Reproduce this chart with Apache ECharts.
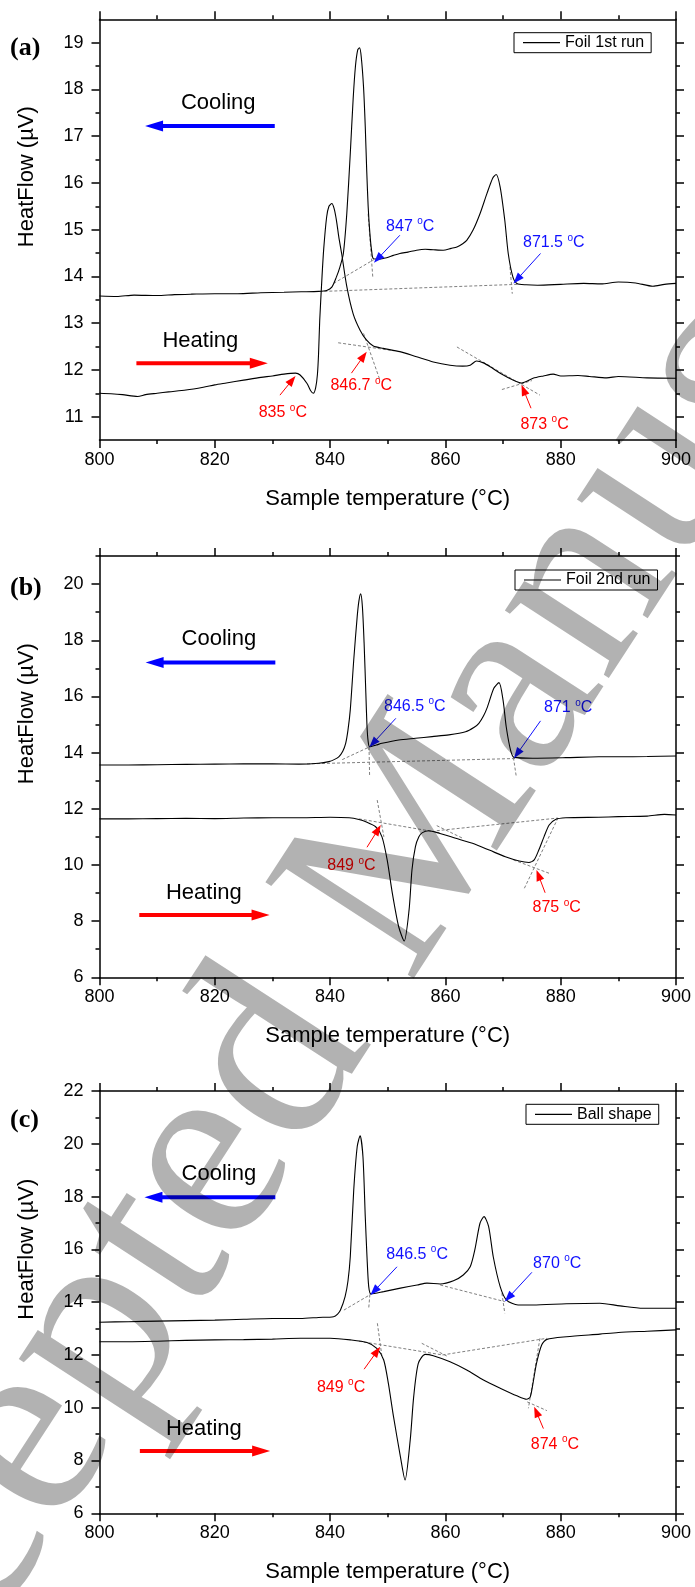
<!DOCTYPE html>
<html><head><meta charset="utf-8">
<script src="https://cdn.jsdelivr.net/npm/echarts@6/dist/echarts.min.js"></script>
<style>html,body{margin:0;padding:0;background:#fff}#c{width:695px;height:1587px}</style>
</head><body><div id="c"></div>
<script>
// ---------------- DATA ----------------
const runNames = ['Foil 1st run', 'Foil 2nd run', 'Ball shape'];
const panelTags = ['(a)', '(b)', '(c)'];
const watermarkText = 'Accepted Manuscript';

const coolA = [[800,13.58],[803,13.57],[806,13.6],[810,13.59],[813,13.61],[816,13.62],[820,13.63],[824,13.63],[828,13.65],[832,13.66],[835,13.67],[838,13.68],[839.4,13.7],[840.3,13.77],[841.1,13.99],[841.7,14.2],[842.3,14.49],[842.9,15.35],[843.5,16.63],[844.0,17.8],[844.4,18.5],[844.8,18.85],[845.1,18.89],[845.4,18.7],[845.8,18.05],[846.1,17.2],[846.35,16.27],[846.6,15.5],[846.9,14.92],[847.2,14.55],[847.5,14.38],[848.5,14.37],[849.8,14.4],[851,14.45],[852.1,14.49],[853.5,14.52],[855.0,14.56],[856.5,14.58],[857.9,14.57],[859.6,14.56],[861,14.6],[862.0,14.63],[863.0,14.7],[863.7,14.77],[864.8,14.99],[866.0,15.34],[867.2,15.77],[868.2,16.1],[868.8,16.18],[869.5,15.91],[870.3,15.2],[870.9,14.49],[871.7,13.99],[872.4,13.85],[874,13.82],[876,13.81],[880,13.83],[884,13.85],[887,13.84],[890,13.88],[893,13.86],[896,13.79],[898,13.83],[900,13.85]];
const heatA = [[800,11.5],[802,11.49],[804,11.47],[806.6,11.43],[808,11.47],[810,11.5],[812,11.53],[815,11.57],[818,11.63],[820,11.68],[822,11.72],[825,11.78],[828,11.84],[830,11.87],[832,11.91],[834,11.93],[834.8,11.89],[836.0,11.71],[836.6,11.56],[837.1,11.5],[837.5,11.62],[837.8,11.9],[838.0,12.35],[838.2,13.06],[838.6,14.0],[838.9,14.6],[839.4,15.27],[839.8,15.5],[840.3,15.56],[840.7,15.45],[841.1,15.2],[841.5,14.85],[842.0,14.49],[842.9,13.78],[844.0,13.2],[845.2,12.85],[846.3,12.64],[847.5,12.51],[849.2,12.46],[852.1,12.39],[855.0,12.28],[857.9,12.17],[860.8,12.1],[863,12.08],[864.3,12.1],[865.4,12.19],[866.6,12.15],[868,12.05],[869.5,11.93],[871.8,11.78],[873.2,11.72],[875.2,11.82],[877,11.87],[878.7,11.91],[880,11.87],[883,11.88],[885,11.86],[888,11.83],[890,11.86],[895,11.83],[900,11.82]];

const coolB = [[800,13.56],[805,13.56],[810,13.57],[815,13.58],[820,13.59],[825,13.6],[830,13.6],[834.6,13.59],[838,13.62],[839.8,13.68],[840.7,13.75],[841.5,13.85],[842.2,14.05],[842.7,14.33],[843.1,14.8],[843.5,15.52],[844.1,17.3],[844.7,18.84],[845.0,19.4],[845.3,19.65],[845.6,19.2],[845.9,17.89],[846.2,16.11],[846.4,14.95],[846.6,14.4],[846.85,14.21],[848,14.27],[849.0,14.33],[851.9,14.45],[854.8,14.51],[857.7,14.57],[860.6,14.63],[863.5,14.74],[865,14.9],[865.8,15.04],[866.6,15.3],[867.3,15.63],[868.4,16.29],[869.3,16.49],[870.0,15.87],[870.55,14.92],[871.3,14.09],[871.9,13.83],[875.1,13.8],[880.9,13.82],[886.6,13.85],[890,13.85],[895,13.86],[900,13.88]];
const heatB = [[800,11.64],[805,11.64],[810,11.65],[815,11.66],[820,11.65],[825,11.67],[830,11.68],[835,11.68],[840,11.7],[843.3,11.68],[845,11.62],[846.2,11.54],[847.9,11.36],[849.0,11.0],[849.9,10.18],[850.8,8.99],[851.9,7.8],[852.85,7.29],[853.7,8.4],[854.2,9.82],[854.8,10.65],[855.4,11.0],[856.0,11.15],[857.1,11.22],[858.9,11.13],[861.8,10.95],[864.7,10.77],[867.6,10.53],[870.4,10.29],[872.8,10.14],[874.5,10.09],[875.4,10.18],[876.2,10.53],[877.1,11.0],[878.0,11.42],[879.1,11.62],[880.9,11.68],[886.6,11.7],[890,11.72],[895,11.74],[898,11.8],[900,11.78]];

const coolC = [[800,13.24],[805,13.26],[810,13.28],[815,13.3],[820,13.32],[825,13.35],[830,13.38],[834.85,13.38],[838,13.42],[840.6,13.45],[841.3,13.55],[841.8,13.7],[842.6,14.21],[843.1,14.8],[843.5,15.72],[844.1,18.25],[844.7,19.89],[845.2,20.3],[845.7,19.51],[846.1,17.24],[846.4,15.72],[846.7,14.59],[847.1,14.31],[849.3,14.4],[852.2,14.53],[855.1,14.65],[856.8,14.72],[859.1,14.69],[861.4,14.81],[863.1,15.03],[864.3,15.34],[865.1,15.98],[866.0,16.99],[866.7,17.24],[867.5,16.86],[868.3,15.72],[869.5,14.59],[870.6,14.08],[872.6,13.89],[875.2,13.89],[881.0,13.94],[886.8,13.96],[890.3,13.86],[894.3,13.77],[900,13.77]];
const heatC = [[800,12.5],[805,12.5],[810,12.52],[815,12.55],[820,12.57],[825,12.58],[830,12.6],[834.85,12.63],[840,12.63],[843.5,12.57],[846.4,12.47],[848.1,12.25],[849.3,11.81],[850.1,10.93],[851.0,9.66],[852.2,8.14],[853.0,7.26],[853.9,8.78],[854.5,10.42],[855.3,11.68],[856.5,12.02],[857.9,11.97],[860.8,11.74],[863.7,11.43],[866.6,11.05],[869.5,10.74],[872.4,10.45],[874.1,10.32],[874.7,10.4],[875.2,10.93],[875.8,11.68],[876.7,12.38],[877.6,12.59],[881.0,12.69],[886.8,12.79],[890,12.85],[895,12.9],[900,12.95]];

// axis ranges and tick values
const yRangeA = [10.5, 19.5], yRangeB = [6, 21], yRangeC = [6, 22];
const yMajorA = [11,12,13,14,15,16,17,18,19];
const yMinorA = [11.5,12.5,13.5,14.5,15.5,16.5,17.5,18.5];
const yMajorB = [6,8,10,12,14,16,18,20];
const yMinorB = [7,9,11,13,15,17,19,21];
const yMajorC = [6,8,10,12,14,16,18,20,22];
const yMinorC = [7,9,11,13,15,17,19,21];
const xRange = [800, 900];

// tangent construction lines [x1,y1,x2,y2]
const tangA = [[839,13.68,872.5,13.83],[840.6,13.85,847.6,14.36],[846.6,15.34,847.4,13.99],[871.2,14.2,871.6,13.63],
  [841.4,12.58,851,12.41],[845.8,12.78,848.65,11.78],[862.0,12.49,876.4,11.46],[869.8,11.58,875,11.77]];
const tangB = [[836,13.6,872.3,13.79],[842.1,13.75,846.8,14.2],[846.75,14.2,846.85,13.2],[871.8,13.82,872.3,13.14],
  [848.17,12.31,849.33,11.0],[845,11.64,859,11.15],[858.5,11.22,879.5,11.67],[858.5,11.4,863,10.95],[873.7,9.17,879.5,11.66],[871.8,10.18,878.3,9.68]];
const tangC = [[842.4,13.7,847.0,14.29],[846.9,14.29,846.7,13.77],[859.1,14.65,870.3,14.02],[869.8,14.34,870.3,13.58],
  [848.2,13.2,849.0,11.93],[845,12.52,859.5,12.0],[855.9,12.44,860.5,11.93],[859.5,12.0,877.6,12.63],[876.4,12.63,874.4,9.98],[874.2,10.22,877.6,9.89]];

// onset arrows [tailX,tailY,tipX,tipY]
const coolArrA = [[852.1,14.88,847.6,14.29],[876.5,14.49,871.8,13.85]];
const heatArrA = [[831.3,11.46,834.0,11.87],[843.7,11.93,846.35,12.39],[874.85,11.18,873.2,11.68]];
const coolArrB = [[851.4,15.22,846.8,14.19],[876.5,15.13,871.9,13.8]];
const heatArrB = [[846.4,10.63,848.8,11.42],[877.3,9.01,875.8,9.82]];
const coolArrC = [[851.6,15.34,847.0,14.27],[875.0,15.13,870.3,14.02]];
const heatArrC = [[845.9,11.46,848.7,12.31],[877,9.21,875.4,10.04]];

// onset labels: positions and temperatures
const coolLabPosA = [[853.9,15.09],[878.8,14.74]], coolLabA = ['847','871.5'];
const heatLabPosA = [[831.8,11.1],[845.4,11.68],[877.2,10.86]], heatLabA = ['835','846.7','873'];
const coolLabPosB = [[854.7,15.69],[881.3,15.63]], coolLabB = ['846.5','871'];
const heatLabPosB = [[843.7,10.0],[879.3,8.51]], heatLabB = ['849','875'];
const coolLabPosC = [[855.1,15.85],[879.4,15.5]], coolLabC = ['846.5','870'];
const heatLabPosC = [[841.9,10.8],[879.0,8.65]], heatLabC = ['849','874'];

// direction arrows and their captions
const dirArrA = {cool:[830.4,17.22,807.9,17.22], heat:[806.4,12.14,829.2,12.14], coolTxt:[820.6,17.73], heatTxt:[817.5,12.64]};
const dirArrB = {cool:[830.5,17.21,808.0,17.21], heat:[806.9,8.22,829.5,8.22], coolTxt:[820.7,18.07], heatTxt:[818.1,9.05]};
const dirArrC = {cool:[830.5,17.97,807.8,17.97], heat:[807.0,8.36,829.6,8.36], coolTxt:[820.7,18.88], heatTxt:[818.1,9.22]};

// ---------------- LAYOUT / STYLE ----------------
const FONT = "'Liberation Sans', Arial, Helvetica, sans-serif";
const BLUE = '#1010ff', RED = '#ff0000';
const gridTops = [19.3, 556, 1091];
const gridHeights = [420.7, 421.3, 422.3];
const legendPos = [[514, 32.7], [515, 570], [526, 1104.3]];
const tagTops = [35, 575, 1107];

const panels = [
  {cool:coolA, heat:heatA, yr:yRangeA, maj:yMajorA, min:yMinorA, tang:tangA, ca:coolArrA, ha:heatArrA, clp:coolLabPosA, cl:coolLabA, hlp:heatLabPosA, hl:heatLabA, dir:dirArrA},
  {cool:coolB, heat:heatB, yr:yRangeB, maj:yMajorB, min:yMinorB, tang:tangB, ca:coolArrB, ha:heatArrB, clp:coolLabPosB, cl:coolLabB, hlp:heatLabPosB, hl:heatLabB, dir:dirArrB},
  {cool:coolC, heat:heatC, yr:yRangeC, maj:yMajorC, min:yMinorC, tang:tangC, ca:coolArrC, ha:heatArrC, clp:coolLabPosC, cl:coolLabC, hlp:heatLabPosC, hl:heatLabC, dir:dirArrC}
];

const axisLine = {show:true, lineStyle:{color:'#000', width:1.5}};
const tickStyle = {color:'#000', width:1.5};

const grid = [], xAxis = [], yAxis = [], series = [], legend = [], title = [];

function arrowRenderer(headLen, headHalf, lw, color) {
  return function (params, api) {
    const a = api.coord([api.value(0), api.value(1)]);
    const b = api.coord([api.value(2), api.value(3)]);
    const dx = b[0]-a[0], dy = b[1]-a[1];
    const L = Math.hypot(dx, dy) || 1;
    const ux = dx/L, uy = dy/L;
    const bx = b[0]-ux*headLen, by = b[1]-uy*headLen;
    return {type:'group', children:[
      {type:'line', shape:{x1:a[0], y1:a[1], x2:bx+ux*2, y2:by+uy*2}, style:{stroke:color, lineWidth:lw}},
      {type:'polygon', shape:{points:[[b[0],b[1]],[bx-uy*headHalf, by+ux*headHalf],[bx+uy*headHalf, by-ux*headHalf]]}, style:{fill:color}}
    ]};
  };
}
function labelRenderer(texts, color, size, sup) {
  return function (params, api) {
    const c = api.coord([api.value(0), api.value(1)]);
    const t = texts[params.dataIndex];
    return {type:'text', x:c[0], y:c[1], style:{
      text: sup ? '{n|' + t + ' }{s|o}{n|C}' : '{n|' + t + '}',
      fill: color, align:'center', verticalAlign:'middle',
      rich: {
        n:{fontSize: size, fontFamily: FONT, fill: color, lineHeight: size + 2, verticalAlign:'bottom'},
        s:{fontSize: 10, fontFamily: FONT, fill: color, verticalAlign:'top', lineHeight: 10}
      }
    }};
  };
}

panels.forEach((p, i) => {
  grid.push({left:99.5, right:19, top:gridTops[i], height:gridHeights[i], containLabel:false});
  const xb = {type:'value', gridIndex:i, position:'bottom', min:xRange[0], max:xRange[1], interval:20,
    axisLine, axisTick:{show:true, inside:false, length:8, lineStyle:tickStyle},
    minorTick:{show:true, splitNumber:2, length:4, lineStyle:tickStyle},
    axisLabel:{show:true, margin:11, fontSize:18, color:'#000', fontFamily:FONT},
    splitLine:{show:false}, minorSplitLine:{show:false},
    name:'Sample temperature (°C)', nameLocation:'middle', nameGap:48,
    nameTextStyle:{fontSize:22, color:'#000', fontFamily:FONT}};
  const xt = Object.assign({}, xb, {position:'top', axisLabel:{show:false}, name:''});
  xAxis.push(xb, xt);
  const ylMaj = {type:'value', gridIndex:i, position:'left', min:p.yr[0], max:p.yr[1],
    axisLine, axisTick:{show:true, inside:false, length:8, lineStyle:tickStyle, customValues:p.maj},
    axisLabel:{show:true, customValues:p.maj, margin:16, fontSize:18, color:'#000', fontFamily:FONT},
    splitLine:{show:false},
    name:'HeatFlow (µV)', nameLocation:'middle', nameGap:62,
    nameTextStyle:{fontSize:22, color:'#000', fontFamily:FONT, padding:[0,0,0,106]}};
  const ylMin = {type:'value', gridIndex:i, position:'left', min:p.yr[0], max:p.yr[1],
    axisLine:{show:false}, axisTick:{show:true, inside:false, length:4, lineStyle:tickStyle, customValues:p.min},
    axisLabel:{show:false}, splitLine:{show:false}};
  const yrMaj = Object.assign({}, ylMaj, {position:'right', axisLabel:{show:false}, name:''});
  const yrMin = Object.assign({}, ylMin, {position:'right'});
  yAxis.push(ylMaj, ylMin, yrMaj, yrMin);

  const xi = 2*i, yi = 4*i;
  const lineCommon = {type:'line', xAxisIndex:xi, yAxisIndex:yi, name:runNames[i], symbol:'none', showSymbol:false,
    smooth:0.25, lineStyle:{color:'#000', width:1.1}, itemStyle:{color:'#000'}, z:5, animation:false};
  series.push(Object.assign({}, lineCommon, {data:p.cool}));
  series.push(Object.assign({}, lineCommon, {data:p.heat}));

  series.push({type:'custom', xAxisIndex:xi, yAxisIndex:yi, data:p.tang, silent:true, z:3, animation:false,
    renderItem:(params, api) => {
      const a = api.coord([api.value(0), api.value(1)]);
      const b = api.coord([api.value(2), api.value(3)]);
      return {type:'line', shape:{x1:a[0], y1:a[1], x2:b[0], y2:b[1]}, style:{stroke:'#808080', lineWidth:1, lineDash:[3,2]}};
    }});
  series.push({type:'custom', xAxisIndex:xi, yAxisIndex:yi, data:p.ca, silent:true, z:6, animation:false, renderItem:arrowRenderer(11, 4, 1, BLUE)});
  series.push({type:'custom', xAxisIndex:xi, yAxisIndex:yi, data:p.ha, silent:true, z:6, animation:false, renderItem:arrowRenderer(11, 4, 1, RED)});
  series.push({type:'custom', xAxisIndex:xi, yAxisIndex:yi, data:[p.dir.cool], silent:true, z:6, animation:false, renderItem:arrowRenderer(18, 5.5, 4, '#0000ff')});
  series.push({type:'custom', xAxisIndex:xi, yAxisIndex:yi, data:[p.dir.heat], silent:true, z:6, animation:false, renderItem:arrowRenderer(18, 5.5, 4, RED)});
  series.push({type:'custom', xAxisIndex:xi, yAxisIndex:yi, data:p.clp, silent:true, z:7, animation:false, renderItem:labelRenderer(p.cl, BLUE, 16, true)});
  series.push({type:'custom', xAxisIndex:xi, yAxisIndex:yi, data:p.hlp, silent:true, z:7, animation:false, renderItem:labelRenderer(p.hl, RED, 16, true)});
  series.push({type:'custom', xAxisIndex:xi, yAxisIndex:yi, data:[p.dir.coolTxt, p.dir.heatTxt], silent:true, z:7, animation:false, renderItem:labelRenderer(['Cooling','Heating'], '#000', 22, false)});

  legend.push({data:[{name:runNames[i], icon:'rect'}], left:legendPos[i][0], top:legendPos[i][1], orient:'horizontal',
    borderColor:'#000', borderWidth:1, borderRadius:0, padding:[2,7,2,9], itemWidth:37, itemHeight:1.2, selectedMode:false,
    textStyle:{fontSize:16, color:'#000', fontFamily:FONT, lineHeight:16}});
  title.push({text:panelTags[i], left:10, top:tagTops[i], padding:0,
    textStyle:{fontFamily:"'Liberation Serif', 'Times New Roman', serif", fontWeight:'bold', fontSize:26, color:'#000'}});
});

// journal "Accepted Manuscript" stamp laid over the figure
const WM_SIZE = 270, WM_ANGLE = 57 * Math.PI / 180;
const graphic = [{
  type:'text', x:-242, y:1858, rotation:WM_ANGLE, z:100, silent:true,
  style:{text:watermarkText, font: WM_SIZE + "px 'Liberation Serif', 'Times New Roman', serif", fill:'rgba(0,0,0,0.3)', align:'left', verticalAlign:'middle'}
}];

const chart = echarts.init(document.getElementById('c'), null, {renderer:'canvas'});
chart.setOption({animation:false, backgroundColor:'#fff', title, legend, grid, xAxis, yAxis, series, graphic});
</script></body></html>
